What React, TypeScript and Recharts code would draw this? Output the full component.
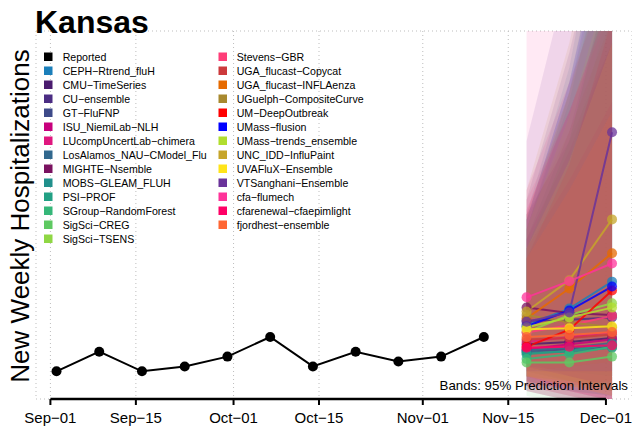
import React from 'react';
import {
  ComposedChart,
  Line,
  Area,
  XAxis,
  YAxis,
  CartesianGrid,
  ReferenceLine,
} from 'recharts';

const FONT = '"Liberation Sans", Arial, Helvetica, sans-serif';

const reportedDates = [
  '2023-09-02', '2023-09-09', '2023-09-16', '2023-09-23', '2023-09-30', '2023-10-07',
  '2023-10-14', '2023-10-21', '2023-10-28', '2023-11-04', '2023-11-11',
];
const reportedValues = [13, 17, 13, 14, 16, 20, 14, 17, 15, 16, 20];

const forecastDates = ['2023-11-18', '2023-11-25', '2023-12-02'];

const tickDates = ['2023-09-01', '2023-09-15', '2023-10-01', '2023-10-15', '2023-11-01', '2023-11-15', '2023-12-01'];
const tickLabels = ['Sep\u221201', 'Sep\u221215', 'Oct\u221201', 'Oct\u221215', 'Nov\u221201', 'Nov\u221215', 'Dec\u221201'];

const gridValues = [10, 20, 30, 40, 50, 60, 70];

const modelNames = [
  'CEPH\u2212Rtrend_fluH', 'CMU\u2212TimeSeries', 'CU\u2212ensemble', 'GT\u2212FluFNP',
  'ISU_NiemiLab\u2212NLH', 'LUcompUncertLab\u2212chimera', 'LosAlamos_NAU\u2212CModel_Flu',
  'MIGHTE\u2212Nsemble', 'MOBS\u2212GLEAM_FLUH', 'PSI\u2212PROF', 'SGroup\u2212RandomForest',
  'SigSci\u2212CREG', 'SigSci\u2212TSENS', 'Stevens\u2212GBR', 'UGA_flucast\u2212Copycat',
  'UGA_flucast\u2212INFLAenza', 'UGuelph\u2212CompositeCurve', 'UM\u2212DeepOutbreak',
  'UMass\u2212flusion', 'UMass\u2212trends_ensemble', 'UNC_IDD\u2212InfluPaint',
  'UVAFluX\u2212Ensemble', 'VTSanghani\u2212Ensemble', 'cfa\u2212flumech',
  'cfarenewal\u2212cfaepimlight', 'fjordhest\u2212ensemble',
];

const modelColors = [
  '#1b7fba', '#4b1c6f', '#4b2d83', '#3e4a89', '#c7007d', '#e0177f', '#31688e',
  '#7a1260', '#21908c', '#22a084', '#35b779', '#5ec962', '#8fd744', '#ff3d78',
  '#cc3a3c', '#e66a00', '#a8892f', '#ff0000', '#0000ff', '#b1de2e', '#c6a52a',
  '#ffe41a', '#6a339a', '#ff3399', '#ff0066', '#ff6633',
];

const medians = [
  [22.5, 25.8, 31.3], [18.5, 19.0, 19.8], [23.3, 23.5, 24.0], [17.0, 17.5, 18.0],
  [17.5, 18.5, 19.5], [19.0, 20.0, 21.0], [17.3, 17.8, 18.8], [26.0, 24.9, 24.5],
  [16.8, 17.0, 17.8], [16.5, 17.2, 18.5], [15.5, 16.5, 18.0], [14.8, 14.8, 16.0],
  [21.0, 24.5, 26.9], [20.9, 22.4, 24.3], [19.5, 19.8, 20.5], [23.8, 29.9, 37.1],
  [24.5, 23.0, 22.0], [18.0, 21.5, 29.5], [22.2, 25.4, 30.3], [22.0, 24.0, 26.0],
  [25.2, 31.6, 44.0], [21.6, 21.8, 22.2], [23.1, 25.0, 61.8], [28.1, 31.4, 35.0],
  [17.8, 18.0, 18.3], [20.0, 20.4, 21.0],
];

const lower95 = [
  [14, 13, 12], [12, 10, 9], [13, 11, 9], [11, 9, 7], [10, 8, 6], [9, 7, 5], [11, 9, 8],
  [15, 12, 10], [12, 11, 10], [9, 7, 5], [10, 9, 8], [8, 6, 5], [12, 11, 10], [11, 9, 7],
  [10, 8, 6], [13, 14, 15], [14, 11, 9], [10, 10, 11], [13, 13, 13], [12, 10, 9],
  [12, 11, 10], [12, 10, 8], [14, 12, 10], [12, 9, 7], [9, 7, 5], [12, 10, 8],
];

const upper95 = [
  [45, 75, 120], [40, 62, 95], [48, 78, 115], [42, 70, 110], [40, 58, 80], [50, 72, 95],
  [44, 72, 112], [45, 60, 80], [38, 60, 95], [42, 68, 105], [36, 56, 90], [38, 60, 95],
  [44, 70, 105], [48, 66, 88], [38, 52, 68], [45, 70, 100], [44, 62, 85], [36, 55, 85],
  [44, 72, 110], [42, 65, 95], [50, 80, 120], [38, 56, 80], [60, 95, 140], [90, 130, 170],
  [46, 66, 90], [36, 50, 66],
];

const toDay = (s: string) =>
  (Date.parse(s + 'T00:00:00Z') - Date.parse('2023-09-01T00:00:00Z')) / 86400000;

const reportedData = reportedDates.map((d, i) => ({ day: toDay(d), value: reportedValues[i] }));
const tickDays = tickDates.map(toDay);

const modelData = modelNames.map((_, m) =>
  forecastDates.map((d, i) => ({
    day: toDay(d),
    med: medians[m][i],
    band: [lower95[m][i], upper95[m][i]],
  }))
);

const Y_MIN = 7.35;
const Y_MAX = 82.45;

const legendLeft = [{ name: 'Reported', color: '#000000' }].concat(
  modelNames.slice(0, 13).map((n, i) => ({ name: n, color: modelColors[i] }))
);
const legendRight = modelNames.slice(13).map((n, i) => ({ name: n, color: modelColors[i + 13] }));

export default function App() {
  return (
    <div style={{ position: 'fixed', left: 0, top: 0, width: 632, height: 433, background: '#fff', fontFamily: FONT }}>
      <ComposedChart width={632} height={433} margin={{ top: 31, right: 0, bottom: 0, left: 36 }}>
        <CartesianGrid stroke="#bdbdbd" strokeDasharray="1 3" />
        <XAxis
          type="number"
          dataKey="day"
          domain={[-2.36, 95.27]}
          allowDataOverflow
          ticks={tickDays}
          tickFormatter={(v: number) => tickLabels[tickDays.indexOf(v)] ?? ''}
          axisLine={false}
          tickLine={{ stroke: '#000', strokeWidth: 2 }}
          tickSize={6}
          tickMargin={7}
          height={34}
          interval={0}
          tick={{ fill: '#000', fontSize: 15, fontFamily: FONT }}
        />
        <YAxis
          type="number"
          domain={[Y_MIN, Y_MAX]}
          allowDataOverflow
          ticks={gridValues}
          width={0}
          tick={false}
          axisLine={false}
          tickLine={false}
        />
        {modelData.map((data, m) => (
          <Area
            key={'band' + m}
            data={data}
            dataKey="band"
            type="linear"
            stroke="none"
            fill={modelColors[m]}
            fillOpacity={0.11}
            isAnimationActive={false}
          />
        ))}
        {modelData.map((data, m) => (
          <Line
            key={'line' + m}
            data={data}
            dataKey="med"
            type="linear"
            stroke={modelColors[m]}
            strokeWidth={2}
            strokeOpacity={0.85}
            dot={{ r: 5, fill: modelColors[m], stroke: 'none', fillOpacity: 0.75 }}
            isAnimationActive={false}
          />
        ))}
        <Line
          data={reportedData}
          dataKey="value"
          type="linear"
          stroke="#000"
          strokeWidth={2}
          dot={{ r: 5, fill: '#000', stroke: 'none' }}
          isAnimationActive={false}
        />
        <ReferenceLine
          segment={[{ x: tickDays[0], y: Y_MIN }, { x: tickDays[tickDays.length - 1], y: Y_MIN }]}
          stroke="#000"
          strokeWidth={2.5}
          ifOverflow="visible"
        />
      </ComposedChart>
      <svg width={632} height={433} style={{ position: 'absolute', left: 0, top: 0, pointerEvents: 'none' }}>
        <text x={35} y={33} fontSize={32} fontWeight="bold" fontFamily={FONT} fill="#000">Kansas</text>
        <text
          transform="translate(28.5,216) rotate(-90)"
          textAnchor="middle"
          fontSize={26}
          fontFamily={FONT}
          fill="#000"
        >
          New Weekly Hospitalizations
        </text>
        {legendLeft.map((it, i) => (
          <g key={'ll' + i}>
            <rect x={44} y={52.5 + i * 14} width={8.5} height={8.5} fill={it.color} />
            <text x={62.7} y={60.5 + i * 14} fontSize={10.6} fontFamily={FONT} fill="#000">{it.name}</text>
          </g>
        ))}
        {legendRight.map((it, i) => (
          <g key={'lr' + i}>
            <rect x={218.5} y={52.5 + i * 14} width={8.5} height={8.5} fill={it.color} />
            <text x={236.7} y={60.5 + i * 14} fontSize={10.6} fontFamily={FONT} fill="#000">{it.name}</text>
          </g>
        ))}
        <text x={628} y={390} textAnchor="end" fontSize={13.3} fontFamily={FONT} fill="#000">
          Bands: 95% Prediction Intervals
        </text>
      </svg>
    </div>
  );
}
